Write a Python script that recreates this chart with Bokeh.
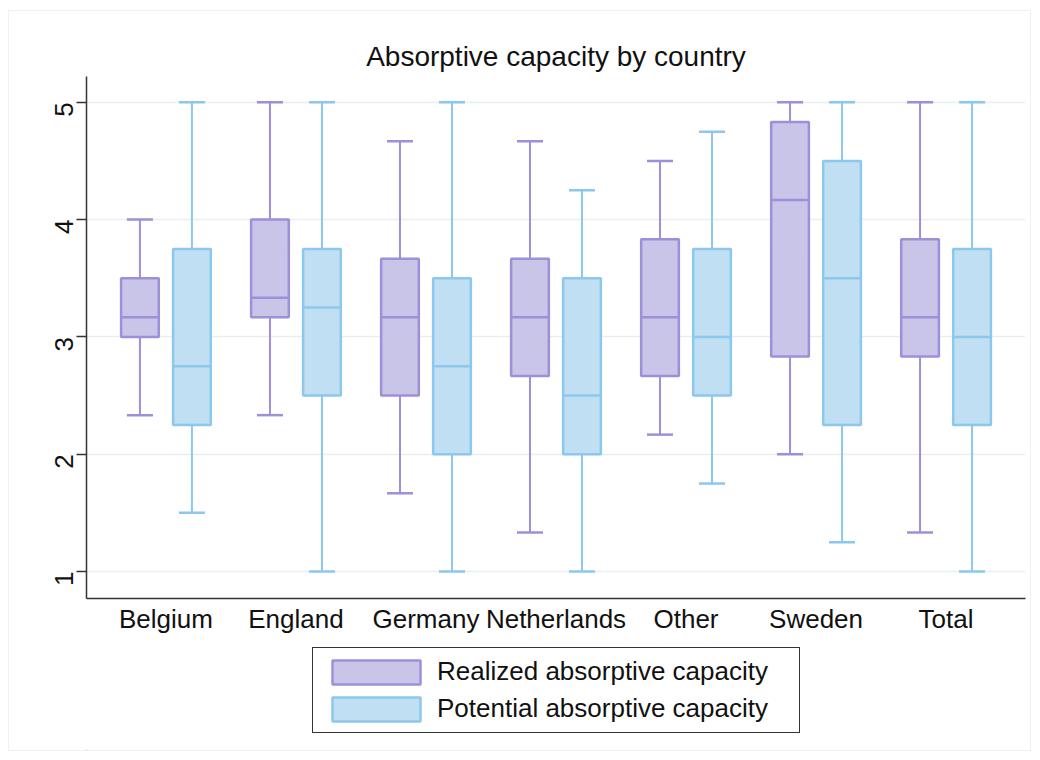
from bokeh.plotting import figure
from bokeh.models import ColumnDataSource, FactorRange, Legend, LegendItem, FixedTicker
from bokeh.layouts import column
from bokeh.transform import dodge
from bokeh.embed import file_html
from bokeh.resources import INLINE
import math

countries = ["Belgium", "England", "Germany", "Netherlands", "Other", "Sweden", "Total"]

# Realized absorptive capacity
real_low = [2.333, 2.333, 1.667, 1.333, 2.167, 2.0, 1.333]
real_q1 = [3.0, 3.167, 2.5, 2.667, 2.667, 2.833, 2.833]
real_med = [3.167, 3.333, 3.167, 3.167, 3.167, 4.167, 3.167]
real_q3 = [3.5, 4.0, 3.667, 3.667, 3.833, 4.833, 3.833]
real_high = [4.0, 5.0, 4.667, 4.667, 4.5, 5.0, 5.0]

# Potential absorptive capacity
pot_low = [1.5, 1.0, 1.0, 1.0, 1.75, 1.25, 1.0]
pot_q1 = [2.25, 2.5, 2.0, 2.0, 2.5, 2.25, 2.25]
pot_med = [2.75, 3.25, 2.75, 2.5, 3.0, 3.5, 3.0]
pot_q3 = [3.75, 3.75, 3.5, 3.5, 3.75, 4.5, 3.75]
pot_high = [5.0, 5.0, 5.0, 4.25, 4.75, 5.0, 5.0]

series_names = ["Realized absorptive capacity", "Potential absorptive capacity"]
y_ticks = [1, 2, 3, 4, 5]

FONT = "Liberation Sans"
W = 1021
p = figure(width=W, height=625, output_backend="svg", toolbar_location=None,
           x_range=FactorRange(factors=countries, range_padding=0.111,
                               range_padding_units="absolute"),
           y_range=(0.77, 5.22),
           min_border_left=77, min_border_right=5, min_border_top=65,
           min_border_bottom=32,
           title="Absorptive capacity by country")
p.title.text_font = FONT
p.title.text_font_size = "28px"
p.title.text_font_style = "normal"
p.title.align = "center"
p.title.text_color = "#111111"

p.outline_line_color = None
p.xgrid.grid_line_color = None
p.ygrid.grid_line_color = "#e6f0f1"
p.ygrid.grid_line_width = 1.5
p.yaxis.ticker = FixedTicker(ticks=y_ticks)
p.yaxis.major_label_orientation = math.pi / 2
p.yaxis.minor_tick_line_color = None
p.yaxis.major_tick_out = 10
p.yaxis.major_tick_in = 0
p.xaxis.major_tick_out = 0
p.xaxis.major_tick_in = 0
for ax in (p.xaxis, p.yaxis):
    ax.axis_line_color = "#333333"
    ax.axis_line_width = 1.5
    ax.major_tick_line_color = "#333333"
    ax.major_tick_line_width = 1.5
    ax.major_label_text_font = FONT
    ax.major_label_text_font_size = "26px"
    ax.major_label_text_color = "#111111"
p.xaxis.major_label_standoff = 5
p.yaxis.major_label_standoff = 12

styles = [(-0.2, "#c8c5e8", "#9d90d9"), (0.2, "#c0dff3", "#8cc8ee")]
data = [(real_low, real_q1, real_med, real_q3, real_high),
        (pot_low, pot_q1, pot_med, pot_q3, pot_high)]

bw = 0.29
cap = 0.1
for (off, fill, line), (lo, q1, med, q3, hi) in zip(styles, data):
    src = ColumnDataSource(dict(x=countries, lo=lo, q1=q1, med=med, q3=q3, hi=hi))
    p.segment(x0=dodge("x", off, range=p.x_range), y0="q3",
              x1=dodge("x", off, range=p.x_range), y1="hi",
              source=src, line_color=line, line_width=2)
    p.segment(x0=dodge("x", off, range=p.x_range), y0="q1",
              x1=dodge("x", off, range=p.x_range), y1="lo",
              source=src, line_color=line, line_width=2)
    for col in ("hi", "lo"):
        p.segment(x0=dodge("x", off - cap, range=p.x_range), y0=col,
                  x1=dodge("x", off + cap, range=p.x_range), y1=col,
                  source=src, line_color=line, line_width=2.5)
    p.vbar(x=dodge("x", off, range=p.x_range), width=bw, bottom="q1", top="q3",
           source=src, fill_color=fill, line_color=line, line_width=2.5)
    p.segment(x0=dodge("x", off - bw / 2, range=p.x_range), y0="med",
              x1=dodge("x", off + bw / 2, range=p.x_range), y1="med",
              source=src, line_color=line, line_width=2.5)

# Legend panel below the plot (legend swatches use the same box styles;
# their proxy bars lie outside this panel's visible range)
lp = figure(width=W, height=114, output_backend="svg", toolbar_location=None,
            x_range=(0, 1), y_range=(0, 1), min_border=0)
lp.axis.visible = False
lp.grid.visible = False
lp.outline_line_color = None
items = []
for name, (off, fill, line) in zip(series_names, styles):
    r = lp.vbar(x=[-5], top=[-5], bottom=[-6], width=0.1, fill_color=fill,
                line_color=line, line_width=2.5)
    items.append(LegendItem(label=name, renderers=[r]))
legend = Legend(items=items, location=(226, 17), orientation="vertical",
                glyph_width=110, glyph_height=30, label_standoff=6,
                label_width=354, spacing=6, padding=8, margin=0,
                label_text_font=FONT, label_text_font_size="26px",
                label_text_color="#111111",
                border_line_color="#333333", border_line_width=1.5,
                border_line_alpha=1.0, background_fill_color="white")
lp.add_layout(legend, "center")

layout = column(p, lp, spacing=0)
layout.styles = {"margin-left": "8px", "margin-top": "10px",
                 "border": "1px solid #eef1f1"}

open("out.html", "w").write(file_html(layout, INLINE))
